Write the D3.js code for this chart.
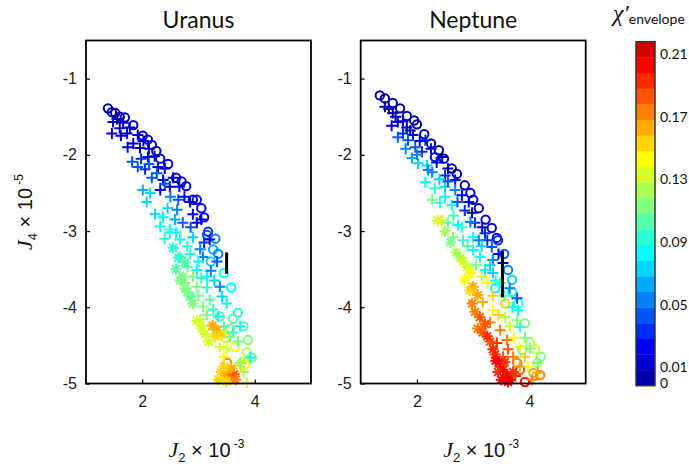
<!DOCTYPE html>
<html>
<head>
<meta charset="utf-8">
<script src="https://cdn.jsdelivr.net/npm/d3@7"></script>
<style>
	body { margin: 0; background: #fff; }
	.tick text { font-family: "Liberation Sans", Arial, sans-serif; font-size: 16px; fill: #222; }
	.cb .tick text { font-family: Lato, sans-serif; font-size: 14px; fill: #111; }
</style>
</head>
<body>
<svg id="chart" width="689" height="467"></svg>
<script>
// [J2 x 1e-3, J4 x 1e-5, chi'_envelope]
var uranusCircles = [
	[1.39,-1.39,0.005],[1.46,-1.44,0.005],[1.52,-1.45,0.005],[1.60,-1.50,0.005],[1.69,-1.51,0.015],
	[1.84,-1.61,0.015],[2.01,-1.75,0.015],[2.17,-1.87,0.015],[2.32,-2.05,0.015],[2.46,-2.12,0.015],
	[2.60,-2.30,0.015],[2.78,-2.41,0.015],[2.90,-2.59,0.015],[2.97,-2.59,0.025],[3.10,-2.82,0.025],
	[3.17,-3.01,0.035],[3.15,-3.05,0.045],[3.26,-3.24,0.065],[3.22,-3.40,0.075],[3.58,-3.74,0.085],
	[3.70,-4.07,0.095],[3.61,-4.15,0.105],[3.38,-4.12,0.105],[3.56,-4.28,0.115],[3.88,-4.43,0.115],
	[3.65,-4.52,0.145],[3.86,-4.59,0.125],[3.95,-4.66,0.115],[3.77,-4.72,0.135],[3.51,-4.73,0.175],
	[3.68,-4.82,0.155],[3.83,-4.75,0.14],
	[2.10,-1.80,0.01],[2.25,-1.95,0.015],[2.70,-2.35,0.015],[3.05,-2.70,0.02],[3.30,-3.10,0.05],
	[3.45,-3.55,0.08],[3.35,-3.30,0.06],[3.80,-4.25,0.1],[3.48,-4.40,0.13]
];
var uranusPluses = [
	[1.48,-1.57,0.01],[1.60,-1.65,0.01],[1.73,-1.72,0.015],[1.46,-1.72,0.01],[1.84,-1.85,0.015],
	[1.96,-1.91,0.015],[2.10,-2.03,0.015],[2.28,-2.16,0.015],[2.37,-2.33,0.015],[2.49,-2.42,0.015],
	[2.85,-2.62,0.015],[2.97,-2.89,0.015],[2.32,-2.46,0.025],
	[1.82,-2.09,0.045],[1.92,-2.16,0.045],[2.05,-2.19,0.035],[2.17,-2.30,0.045],[2.64,-2.59,0.045],
	[2.72,-2.89,0.045],[3.20,-3.11,0.025],[3.03,-3.24,0.055],[3.33,-3.40,0.04],[3.08,-3.34,0.05],
	[3.38,-3.73,0.055],
	[2.01,-2.46,0.065],[2.14,-2.50,0.075],[2.23,-2.78,0.075],[2.37,-2.82,0.08],[2.58,-2.85,0.065],
	[2.32,-2.94,0.085],[2.49,-3.02,0.085],[2.67,-3.11,0.085],[2.97,-3.51,0.085],[3.15,-3.60,0.085],
	[3.42,-3.86,0.075],[3.35,-4.12,0.085],[3.74,-4.25,0.085],[3.61,-4.33,0.095],[3.92,-4.66,0.085],
	[2.49,-2.98,0.095],[2.80,-3.20,0.095],[2.67,-3.34,0.105],[2.80,-3.47,0.105],[3.15,-3.74,0.095],
	[3.26,-4.03,0.095],[2.76,-3.68,0.115],[2.97,-3.73,0.115],[3.08,-3.99,0.115],[3.56,-4.39,0.115],
	[3.74,-4.73,0.115],
	[3.08,-4.25,0.135],[3.26,-4.29,0.125],[3.38,-4.52,0.135],[3.52,-4.85,0.135],[3.86,-4.99,0.135],
	[3.61,-4.91,0.13],[3.03,-4.16,0.125],
	[1.55,-1.53,0.005],[1.66,-1.58,0.01],[1.78,-1.64,0.01],[1.62,-1.75,0.015],[1.92,-1.74,0.015],
	[2.02,-1.82,0.015],[1.74,-1.90,0.03],[2.12,-1.92,0.015],[1.98,-2.05,0.035],[2.22,-2.02,0.015],
	[2.12,-2.12,0.04],[2.40,-2.18,0.015],[2.26,-2.24,0.045],[2.55,-2.30,0.015],[2.40,-2.38,0.045],
	[2.66,-2.42,0.02],[2.08,-2.62,0.075],[2.50,-2.55,0.05],[2.75,-2.55,0.025],[2.45,-2.70,0.07],
	[2.62,-2.72,0.06],[2.90,-2.78,0.03],[2.86,-2.95,0.045],[3.05,-2.85,0.02],[2.40,-3.10,0.09],
	[2.60,-3.02,0.085],[2.90,-3.08,0.07],[3.10,-3.15,0.035],[2.85,-3.30,0.09],[3.00,-3.40,0.08],
	[3.22,-3.52,0.06],[2.90,-3.60,0.11],[3.05,-3.62,0.09],[3.28,-3.65,0.07],[3.00,-3.85,0.12],
	[3.20,-3.90,0.1],[3.50,-3.95,0.08],[3.15,-4.10,0.12],[3.45,-4.25,0.1],[3.50,-4.55,0.13],
	[3.70,-4.45,0.11],[3.80,-4.85,0.125],[3.45,-4.65,0.14]
];
var uranusStars = [
	[2.55,-3.22,0.095],[2.64,-3.35,0.095],[2.76,-3.41,0.1],
	[2.67,-3.65,0.115],[2.76,-3.75,0.115],[2.85,-3.86,0.105],
	[2.97,-4.18,0.13],[3.05,-4.28,0.135],[3.12,-4.35,0.13],
	[3.25,-4.24,0.16],[3.33,-4.30,0.165],[3.40,-4.36,0.155],[3.30,-4.38,0.15],
	[3.40,-4.85,0.155],[3.48,-4.90,0.165],[3.56,-4.93,0.175],[3.63,-4.88,0.185],[3.50,-4.97,0.15],
	[3.66,-4.95,0.17],[3.58,-4.80,0.16],
	[2.60,-3.50,0.105],[2.72,-3.60,0.11],[2.80,-3.80,0.12],[2.90,-3.95,0.12],[3.18,-4.45,0.135],
	[3.35,-4.95,0.15],[3.45,-4.78,0.155]
];
var neptuneCircles = [
	[1.34,-1.22,0.005],[1.43,-1.26,0.005],[1.57,-1.32,0.005],[1.70,-1.39,0.005],[1.82,-1.49,0.005],
	[2.00,-1.60,0.005],[2.13,-1.73,0.005],[2.39,-1.94,0.005],[2.32,-2.03,0.025],[2.62,-2.18,0.005],
	[2.71,-2.25,0.005],[3.00,-2.59,0.005],[3.10,-2.70,0.015],[3.33,-2.96,0.015],[3.42,-3.09,0.015],
	[3.44,-3.12,0.035],[3.62,-3.51,0.055],[3.69,-3.64,0.075],[3.69,-3.80,0.085],[3.39,-3.75,0.085],
	[3.57,-3.95,0.155],[3.92,-4.21,0.115],[4.01,-4.46,0.125],[3.87,-4.56,0.115],[4.14,-4.73,0.125],
	[4.07,-4.86,0.165],[4.19,-4.89,0.17],[3.92,-4.98,0.205],[3.78,-4.73,0.175],[3.83,-4.82,0.185],
	[1.95,-1.55,0.005],[2.25,-1.85,0.005],[2.48,-2.05,0.01],[2.85,-2.40,0.005],[2.95,-2.50,0.01],
	[3.22,-2.85,0.015],[3.55,-3.30,0.04],[3.80,-3.95,0.09],[4.10,-4.55,0.13],[4.20,-4.65,0.12]
];
var neptunePluses = [
	[1.43,-1.37,0.005],[1.57,-1.45,0.005],[1.66,-1.57,0.01],[1.82,-1.64,0.01],[1.93,-1.74,0.015],
	[2.45,-2.03,0.005],[2.55,-2.18,0.005],[2.98,-2.76,0.005],[3.16,-2.95,0.01],[3.53,-3.42,0.015],
	[2.15,-1.81,0.035],[1.66,-1.77,0.045],[1.84,-1.81,0.045],[1.97,-1.90,0.04],[2.09,-1.96,0.035],
	[2.50,-2.27,0.035],[2.68,-2.33,0.025],[2.80,-2.53,0.025],[2.85,-2.73,0.035],[3.03,-2.89,0.035],
	[3.21,-3.03,0.035],[3.25,-3.12,0.035],[3.33,-3.21,0.045],[3.35,-3.38,0.055],[3.78,-3.88,0.045],
	[2.27,-2.23,0.055],[2.68,-2.46,0.055],
	[1.91,-2.04,0.065],[2.02,-2.11,0.075],[2.18,-2.14,0.07],[2.15,-2.36,0.085],[2.50,-2.42,0.075],
	[2.62,-2.66,0.085],[2.73,-2.92,0.085],[3.00,-3.08,0.085],[3.00,-3.25,0.085],[3.12,-3.34,0.085],
	[3.21,-3.51,0.085],[3.35,-3.55,0.075],[3.80,-4.04,0.085],[3.83,-4.26,0.09],
	[2.32,-2.44,0.095],[2.41,-2.63,0.095],[2.55,-2.89,0.105],[2.82,-3.12,0.095],[2.27,-2.59,0.115],
	[3.48,-3.68,0.095],[3.78,-4.17,0.115],[4.01,-4.54,0.115],[4.15,-4.73,0.115],[2.64,-3.08,0.115],
	[2.45,-2.86,0.13],[3.57,-4.13,0.125],[3.83,-4.52,0.145],[3.97,-4.78,0.145],[3.25,-3.68,0.145],
	[3.35,-4.04,0.145],
	[3.17,-3.93,0.165],[3.48,-4.30,0.175],[3.60,-4.43,0.175],[3.53,-4.65,0.185],[3.71,-4.65,0.175],
	[3.83,-4.78,0.165],[4.15,-4.86,0.165],[3.42,-4.47,0.195],[3.48,-4.78,0.205],
	[1.50,-1.40,0.005],[1.62,-1.50,0.005],[1.75,-1.56,0.01],[1.88,-1.68,0.015],[1.55,-1.62,0.02],
	[1.75,-1.72,0.035],[2.05,-1.82,0.02],[2.25,-1.92,0.02],[1.80,-1.92,0.055],[2.00,-2.00,0.05],
	[2.35,-2.10,0.03],[2.20,-2.20,0.06],[2.55,-2.35,0.045],[2.40,-2.32,0.07],[2.72,-2.62,0.045],
	[2.50,-2.55,0.085],[2.92,-2.62,0.02],[2.95,-2.88,0.05],[2.65,-2.80,0.1],[2.80,-2.95,0.09],
	[3.10,-3.12,0.06],[2.90,-3.20,0.1],[3.45,-3.30,0.03],[3.15,-3.20,0.07],[3.30,-3.45,0.07],
	[3.05,-3.45,0.11],[3.40,-3.65,0.09],[3.65,-3.75,0.06],[3.15,-3.60,0.13],[3.55,-3.85,0.1],
	[3.70,-4.00,0.08],[3.35,-3.85,0.15],[3.45,-4.10,0.15],[3.65,-4.25,0.13],[3.30,-4.20,0.17],
	[3.72,-4.40,0.14],[3.92,-4.40,0.12],[3.62,-4.55,0.18],[3.92,-4.65,0.15],[3.75,-4.90,0.19],
	[4.05,-4.95,0.17]
];
var neptuneStars = [
	[2.77,-3.35,0.125],[2.89,-3.47,0.13],[2.82,-3.40,0.135],[2.37,-2.86,0.13],[2.50,-3.00,0.125],
	[3.00,-3.73,0.16],[2.94,-3.78,0.15],[2.85,-3.64,0.145],[3.08,-3.84,0.165],
	[3.03,-4.06,0.175],[3.12,-4.13,0.18],[3.21,-4.22,0.185],[3.08,-4.28,0.175],[3.17,-4.33,0.185],
	[3.30,-4.45,0.185],[3.35,-4.55,0.19],
	[3.39,-4.62,0.195],[3.46,-4.72,0.2],[3.53,-4.82,0.205],[3.60,-4.90,0.205],[3.66,-4.95,0.2],
	[3.56,-4.72,0.195],[3.44,-4.85,0.19],[3.71,-4.85,0.19],
	[2.60,-3.15,0.12],[2.70,-3.28,0.125],[2.95,-3.55,0.14],[2.98,-3.95,0.17],[3.25,-4.38,0.19],
	[3.50,-4.95,0.205],[3.62,-4.98,0.2],[3.40,-4.70,0.2]
];
// observed J2 and J4 range
var uranusObsJ2 = 3.50, uranusObsJ4 = [-3.56, -3.28];
var neptuneObsJ2 = 3.52, neptuneObsJ4 = [-3.87, -3.26];

var xTicks = [2, 4];
var yTicks = [-1, -2, -3, -4, -5];
var cbTicks = [0, 0.01, 0.05, 0.09, 0.13, 0.17, 0.21];
var chiMax = 0.22, chiLevels = 22;

// matlab style jet colormap
function jet(m) {
	var n = Math.ceil(m / 4), u = [], i;
	for (i = 1; i <= n; i++) u.push(i / n);
	for (i = 1; i < n; i++) u.push(1);
	for (i = n; i >= 1; i--) u.push(i / n);
	var off = Math.ceil(n / 2) - (m % 4 == 1 ? 1 : 0);
	var cols = [];
	for (i = 0; i < m; i++) cols.push([0, 0, 0]);
	u.forEach(function(v, k) {
		var g = off + k + 1, r = g + n, b = g - n;
		if (r >= 1 && r <= m) cols[r - 1][0] = v;
		if (g >= 1 && g <= m) cols[g - 1][1] = v;
		if (b >= 1 && b <= m) cols[b - 1][2] = v;
	});
	return cols.map(function(c) { return d3.rgb(c[0] * 255, c[1] * 255, c[2] * 255).toString(); });
}

var palette = jet(chiLevels);
var color = d3.scaleQuantize().domain([0, chiMax]).range(palette);

var svg = d3.select("#chart");
var plotTop = 40.5, plotBottom = 383.5;

function drawPanel(left, name, circles, pluses, stars, obsJ2, obsJ4) {
	var width = 225;
	var x = d3.scaleLinear().domain([1, 5]).range([left, left + width]);
	var y = d3.scaleLinear().domain([-5, -0.5]).range([plotBottom, plotTop]);
	var g = svg.append("g");

	g.append("g")
		.attr("transform", "translate(0," + plotBottom + ")")
		.call(d3.axisBottom(x).tickValues(xTicks).tickFormat(d3.format("d")).tickSizeInner(-4).tickSizeOuter(0).tickPadding(12))
		.call(function(a) { a.select(".domain").remove(); a.selectAll("line").attr("stroke", "#000").attr("stroke-width", 1.2); });
	g.append("g")
		.attr("transform", "translate(" + left + ",0)")
		.call(d3.axisLeft(y).tickValues(yTicks).tickFormat(d3.format("d")).tickSizeInner(-4).tickSizeOuter(0).tickPadding(9))
		.call(function(a) { a.select(".domain").remove(); a.selectAll("line").attr("stroke", "#000").attr("stroke-width", 1.2); });
	// matlab prints a plain hyphen for the minus sign
	g.selectAll(".tick text").text(function() { return this.textContent.replace("\u2212", "-"); });

	var marks = g.append("g").attr("fill", "none").attr("stroke-width", 2);
	marks.selectAll("circle.c").data(circles).enter().append("circle")
		.attr("cx", function(d) { return x(d[0]); })
		.attr("cy", function(d) { return y(d[1]); })
		.attr("r", 4.2)
		.attr("stroke", function(d) { return color(d[2]); });
	marks.selectAll("path.p").data(pluses).enter().append("path")
		.attr("d", "M-5.5,0H5.5M0,-5.5V5.5")
		.attr("transform", function(d) { return "translate(" + x(d[0]) + "," + y(d[1]) + ")"; })
		.attr("stroke", function(d) { return color(d[2]); });
	marks.selectAll("path.s").data(stars).enter().append("path")
		.attr("d", "M-5.5,0H5.5M0,-5.5V5.5M-3.9,-3.9L3.9,3.9M-3.9,3.9L3.9,-3.9")
		.attr("transform", function(d) { return "translate(" + x(d[0]) + "," + y(d[1]) + ")"; })
		.attr("stroke", function(d) { return color(d[2]); });

	g.append("line")
		.attr("x1", x(obsJ2)).attr("x2", x(obsJ2))
		.attr("y1", y(obsJ4[0])).attr("y2", y(obsJ4[1]))
		.attr("stroke", "#000").attr("stroke-width", 3);

	g.append("rect")
		.attr("x", left).attr("y", plotTop)
		.attr("width", width).attr("height", plotBottom - plotTop)
		.attr("fill", "none").attr("stroke", "#000").attr("stroke-width", 1.8);

	g.append("text")
		.attr("x", left + width / 2).attr("y", 28)
		.attr("text-anchor", "middle")
		.style("font-family", "Lato, sans-serif").style("font-size", "23px").attr("fill", "#111")
		.text(name);

	var lab = g.append("text")
		.attr("x", left + width / 2 + 8).attr("y", 457)
		.attr("text-anchor", "middle").attr("fill", "#111");
	axisLabel(lab, "2", "-3");
}

function axisLabel(t, sub, sup) {
	t.append("tspan").text("J").style("font-family", "'Liberation Serif', serif").style("font-style", "italic").style("font-size", "22px");
	t.append("tspan").text(sub).attr("dy", 5).style("font-family", "'Liberation Sans', sans-serif").style("font-size", "13px");
	t.append("tspan").text(" \u00d7 10").attr("dy", -5).style("font-family", "'Liberation Sans', sans-serif").style("font-size", "20px");
	t.append("tspan").text(" " + sup).attr("dy", -9).style("font-family", "'Liberation Sans', sans-serif").style("font-size", "12px");
}

drawPanel(86, "Uranus", uranusCircles, uranusPluses, uranusStars, uranusObsJ2, uranusObsJ4);
drawPanel(360.7, "Neptune", neptuneCircles, neptunePluses, neptuneStars, neptuneObsJ2, neptuneObsJ4);

// y label
var ylab = svg.append("text")
	.attr("transform", "translate(32,212) rotate(-90)")
	.attr("text-anchor", "middle").attr("fill", "#111");
axisLabel(ylab, "4", "-5");

// colorbar
var cbLeft = 636, cbWidth = 19, cbTop = 41.7, cbBottom = 385.7;
var cb = d3.scaleLinear().domain([0, chiMax]).range([cbBottom, cbTop]);
var cbg = svg.append("g").attr("class", "cb");
cbg.selectAll("rect.lvl").data(palette).enter().append("rect")
	.attr("x", cbLeft).attr("width", cbWidth)
	.attr("y", function(d, i) { return cb((i + 1) * chiMax / chiLevels); })
	.attr("height", function(d, i) { return cb(i * chiMax / chiLevels) - cb((i + 1) * chiMax / chiLevels) + 0.3; })
	.attr("fill", function(d) { return d; });
cbg.append("rect")
	.attr("x", cbLeft).attr("y", cbTop).attr("width", cbWidth).attr("height", cbBottom - cbTop)
	.attr("fill", "none").attr("stroke", "#333").attr("stroke-width", 1.5);
cbg.append("g")
	.attr("transform", "translate(" + (cbLeft + cbWidth) + ",-3)")
	.call(d3.axisRight(cb).tickValues(cbTicks).tickSize(0).tickPadding(5)
		.tickFormat(function(d) { return d === 0 ? "0" : d3.format(".2f")(d); }))
	.call(function(a) { a.select(".domain").remove(); });

var cbt = svg.append("text").attr("x", 613).attr("y", 21).attr("fill", "#111");
cbt.append("tspan").text("\u03c7\u2032").style("font-family", "'Liberation Serif', serif").style("font-style", "italic").style("font-size", "24px");
cbt.append("tspan").text("envelope").attr("dy", 3).style("font-family", "Lato, sans-serif").style("font-size", "14px");
</script>
</body>
</html>
